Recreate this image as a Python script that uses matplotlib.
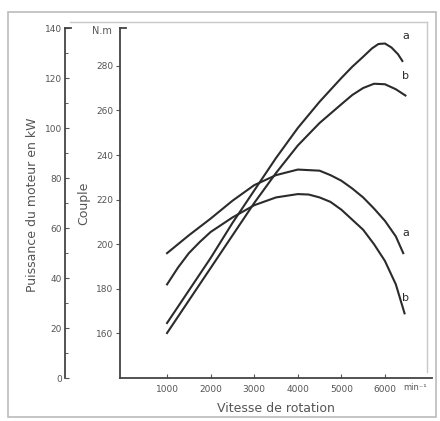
import matplotlib
matplotlib.use("Agg")
import matplotlib.pyplot as plt
from matplotlib.lines import Line2D
from matplotlib.patches import Rectangle

# torque curves (N.m)
rpm_torque_a = [1000, 1500, 2000, 2500, 3000, 3500, 4000, 4500, 4750, 5000,
                5250, 5500, 5750, 6000, 6250, 6420]
torque_a = [196, 204, 211.5, 219.5, 226.5, 231, 233.5, 233, 231, 228.5,
            225, 221, 216, 210.5, 203.5, 196]
rpm_torque_b = [1000, 1250, 1500, 1750, 2000, 2500, 3000, 3500, 4000, 4250,
                4500, 4750, 5000, 5250, 5500, 5750, 6000, 6250, 6450]
torque_b = [182, 189.5, 196, 201, 205.5, 212, 217.5, 221, 222.5, 222.3,
            221, 219, 215.5, 211, 206.5, 200, 192.5, 182, 169]

# power curves (kW)
rpm_power_a = [1000, 1500, 2000, 2500, 3000, 3500, 4000, 4500, 5000, 5250,
               5500, 5700, 5850, 6000, 6150, 6300, 6400]
power_a = [22, 35, 48, 62, 75, 88, 100, 110.5, 120, 124.5,
           128.5, 131.8, 133.6, 133.8, 132.2, 129.5, 126.8]
rpm_power_b = [1000, 1500, 2000, 2500, 3000, 3500, 4000, 4500, 5000, 5250,
               5500, 5750, 6000, 6250, 6470]
power_b = [18, 31, 44, 57, 70, 82, 93, 102, 109.5, 113.2,
           116, 117.7, 117.5, 115.5, 113]

x_ticks = [1000, 2000, 3000, 4000, 5000, 6000]
torque_ticks = [160, 180, 200, 220, 240, 260, 280]
power_ticks = [0, 20, 40, 60, 80, 100, 120, 140]

line_col = "#2b2b2b"
text_col = "#555555"
spine_col = "#444444"

fig = plt.figure(figsize=(4.4, 4.21), dpi=100)
W, H = 440, 421

def px_box(x0, y0, x1, y1):
    return [x0 / W, 1 - y1 / H, (x1 - x0) / W, (y1 - y0) / H]

ax = fig.add_axes(px_box(120, 28, 432, 378))
ax.set_xlim(-80, 7080)
ax.set_ylim(140, 297)
ax.patch.set_alpha(0)

ax.plot(rpm_torque_a, torque_a, color=line_col, lw=1.5)
ax.plot(rpm_torque_b, torque_b, color=line_col, lw=1.5)

for s in ["top", "right"]:
    ax.spines[s].set_visible(False)
for s in ["left", "bottom"]:
    ax.spines[s].set_color(spine_col)
    ax.spines[s].set_linewidth(1.3)

ax.set_xticks(x_ticks)
ax.set_xticklabels([str(v) for v in x_ticks])
ax.set_yticks(torque_ticks)
ax.tick_params(axis="x", direction="in", length=3, labelsize=6.5, colors=text_col, pad=5)
ax.tick_params(axis="y", direction="out", length=3, labelsize=6.5, colors=text_col, pad=2)
fig.text(415 / W, 1 - 387 / H, "min\u207b\u00b9", fontsize=6, color=text_col,
         ha="center", va="center")
ax.set_xlabel("Vitesse de rotation", fontsize=9, color=text_col, labelpad=6)

# power axis on the far left
axp = ax.twinx()
axp.set_ylim(0, 140)
axp.patch.set_alpha(0)
axp.plot(rpm_power_a, power_a, color=line_col, lw=1.5)
axp.plot(rpm_power_b, power_b, color=line_col, lw=1.5)
for s in ["top", "right", "bottom"]:
    axp.spines[s].set_visible(False)
axp.spines["left"].set_visible(True)
axp.spines["left"].set_position(("axes", -55 / 312))
axp.spines["left"].set_color(spine_col)
axp.spines["left"].set_linewidth(1.3)
axp.yaxis.set_ticks_position("left")
axp.yaxis.set_label_position("left")
axp.set_yticks(power_ticks)
axp.set_yticks(range(10, 140, 20), minor=True)
axp.tick_params(axis="y", which="major", direction="in", length=3,
                labelsize=6.5, colors=text_col, pad=2)
axp.tick_params(axis="y", which="minor", direction="in", length=2, colors=spine_col)

# axis titles
fig.text(33 / W, 1 - 205 / H, "Puissance du moteur en kW", rotation=90,
         fontsize=9, color=text_col, ha="center", va="center")
fig.text(84 / W, 1 - 203 / H, "Couple", rotation=90,
         fontsize=9, color=text_col, ha="center", va="center")
fig.text(102 / W, 1 - 31 / H, "N.m", fontsize=7, color=text_col,
         ha="center", va="center")

# top caps on the vertical axes
for xp in (65, 120):
    fig.add_artist(Line2D([xp / W, (xp + 6) / W], [1 - 28 / H, 1 - 28 / H],
                          color=spine_col, lw=1.3))

# curve letters
ax.text(6480, 293.5, "a", fontsize=8, color=line_col, ha="center", va="center")
ax.text(6480, 275.5, "b", fontsize=8, color=line_col, ha="center", va="center")
ax.text(6480, 205, "a", fontsize=8, color=line_col, ha="center", va="center")
ax.text(6480, 176, "b", fontsize=8, color=line_col, ha="center", va="center")

# page frame
fig.add_artist(Rectangle((8 / W, 1 - 417 / H), 428 / W, 405 / H, fill=False,
                         edgecolor="#bbbbbb", lw=1.2, transform=fig.transFigure))
fig.add_artist(Line2D([70 / W, 427 / W], [1 - 22 / H, 1 - 22 / H], color="#c8c8c8", lw=1))
fig.add_artist(Line2D([427 / W, 427 / W], [1 - 22 / H, 1 - 372 / H], color="#c8c8c8", lw=1))

fig.savefig("out.png", dpi=100)
